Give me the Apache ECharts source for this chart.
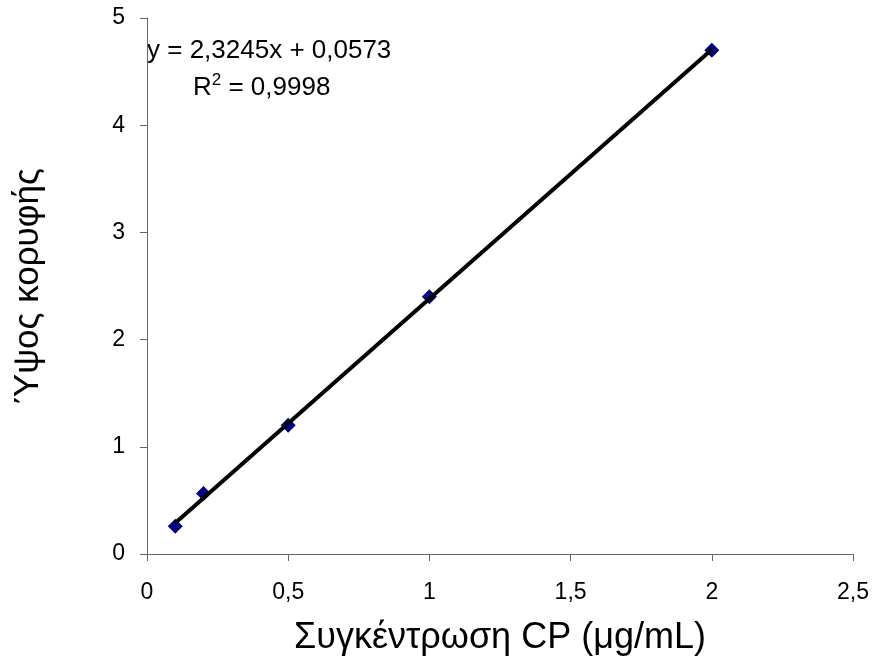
<!DOCTYPE html>
<html>
<head>
<meta charset="utf-8">
<script src="https://cdn.jsdelivr.net/npm/echarts@6/dist/echarts.min.js"></script>
<style>html,body{margin:0;padding:0;background:#fff;}#c{width:877px;height:670px;}</style>
</head>
<body>
<div id="c"></div>
<script>
const concentrations = [0.1, 0.2, 0.5, 1, 2];
const peakHeights = [0.26, 0.565, 1.2, 2.4, 4.7];
const slope = 2.3245;
const intercept = 0.0573;
const rSquared = '0,9998';
const trendX = [0.1, 2];
const xTitle = 'Συγκέντρωση CP (μg/mL)';
const yTitle = 'Ύψος κορυφής';

const FONT = 'Liberation Sans, Arial, sans-serif';
const chart = echarts.init(document.getElementById('c'), null, {renderer: 'canvas'});
const fmt = v => String(v).replace('.', ',');
chart.setOption({
  animation: false,
  backgroundColor: '#fff',
  textStyle: {fontFamily: FONT},
  grid: {left: 147, right: 24, top: 18, bottom: 116},
  xAxis: {
    type: 'value', min: 0, max: 2.5, interval: 0.5,
    axisLine: {lineStyle: {color: '#666', width: 1}},
    axisTick: {inside: false, length: 7, lineStyle: {color: '#666'}},
    splitLine: {show: false},
    axisLabel: {color: '#000', fontSize: 23, fontFamily: FONT, margin: 27, formatter: fmt},
    name: xTitle, nameLocation: 'middle', nameGap: 66,
    nameTextStyle: {color: '#000', fontSize: 36, fontFamily: FONT}
  },
  yAxis: {
    type: 'value', min: 0, max: 5, interval: 1,
    axisLine: {show: true, lineStyle: {color: '#666', width: 1}},
    axisTick: {show: true, inside: false, length: 7, lineStyle: {color: '#666'}},
    splitLine: {show: false},
    axisLabel: {color: '#000', fontSize: 23, fontFamily: FONT, margin: 22, formatter: fmt},
    name: yTitle, nameLocation: 'middle', nameGap: 101, nameRotate: 90,
    nameTextStyle: {color: '#000', fontSize: 35, fontFamily: FONT}
  },
  series: [
    {
      type: 'line',
      data: trendX.map(x => [x, slope * x + intercept]),
      showSymbol: false, symbol: 'none',
      lineStyle: {color: '#000', width: 4},
      z: 3
    },
    {
      type: 'scatter',
      data: concentrations.map((x, i) => [x, peakHeights[i]]),
      symbol: 'diamond', symbolSize: [15, 15],
      itemStyle: {color: '#000080', opacity: 1},
      z: 2
    }
  ],
  graphic: [
    {
      type: 'text', left: 147, top: 38,
      style: {text: 'y = ' + fmt(slope) + 'x + ' + fmt(intercept), font: '26px ' + FONT, fill: '#000'}
    },
    {
      type: 'text', left: 193, top: 72,
      style: {
        text: 'R{sup|2} = ' + rSquared,
        font: '26px ' + FONT, fill: '#000',
        rich: {sup: {fontSize: 17, fontFamily: FONT, verticalAlign: 'top', padding: [0, 0, 14, 0]}}
      }
    }
  ]
});
</script>
</body>
</html>
